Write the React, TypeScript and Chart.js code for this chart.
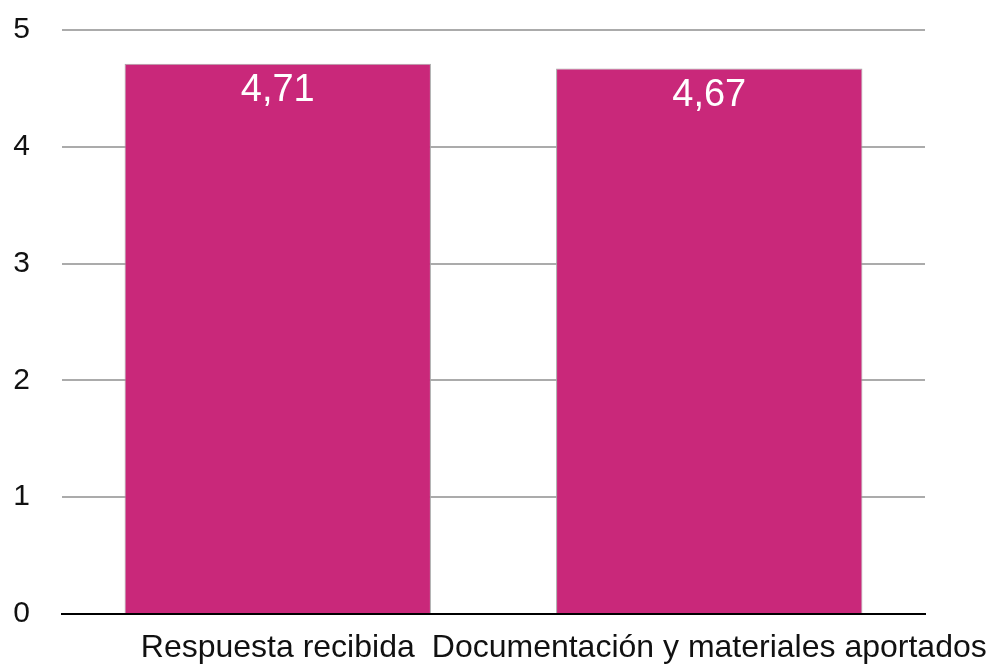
import React, { useEffect, useRef } from "react";
import { Chart, registerables } from "chart.js";

Chart.register(...registerables);

const categories = ["Respuesta recibida", "Documentación y materiales aportados"];
const values = [4.71, 4.67];
const valueLabels = ["4,71", "4,67"];
const yTicks = [0, 1, 2, 3, 4, 5];

const FONT = "'Liberation Sans', Arial, Helvetica, sans-serif";

const valueLabelPlugin = {
  id: "valueLabels",
  afterDatasetsDraw(chart: any) {
    const ctx = chart.ctx;
    const meta = chart.getDatasetMeta(0);
    ctx.save();
    ctx.fillStyle = "#ffffff";
    ctx.font = `38px ${FONT}`;
    ctx.textAlign = "center";
    ctx.textBaseline = "middle";
    meta.data.forEach((bar: any, i: number) => {
      ctx.fillText(valueLabels[i], bar.x, bar.y + 27);
    });
    ctx.restore();
  },
};

export default function App() {
  const ref = useRef<HTMLCanvasElement>(null);
  useEffect(() => {
    if (!ref.current) return;
    const chart = new Chart(ref.current, {
      type: "bar",
      data: {
        labels: categories,
        datasets: [
          {
            data: values,
            backgroundColor: "#C9287A",
            borderColor: "#a8a8a8",
            borderWidth: 1,
            categoryPercentage: 1,
            barPercentage: 0.71,
          },
        ],
      },
      options: {
        responsive: false,
        animation: false,
        layout: { padding: { left: 0, right: 72, top: 30, bottom: 0 } },
        plugins: { legend: { display: false }, tooltip: { enabled: false } },
        scales: {
          x: {
            grid: { display: false, drawTicks: false },
            border: { display: true, color: "#000000", width: 2 },
            ticks: {
              autoSkip: false,
              maxRotation: 0,
              minRotation: 0,
              padding: 15,
              color: "#111111",
              font: { family: FONT, size: 32 },
            },
            afterFit(scale: any) {
              scale.height = 52;
              scale.paddingLeft = 0;
              scale.paddingRight = 0;
            },
          },
          y: {
            min: 0,
            max: 5,
            afterBuildTicks(scale: any) {
              scale.ticks = yTicks.map((v) => ({ value: v }));
            },
            grid: {
              drawTicks: false,
              color: "#ababab",
              lineWidth: 2,
            },
            border: { display: false },
            ticks: {
              padding: 32,
              color: "#111111",
              font: { family: FONT, size: 30 },
            },
            afterFit(scale: any) {
              scale.width = 62;
              scale.paddingTop = 0;
              scale.paddingBottom = 0;
            },
          },
        },
      },
      plugins: [valueLabelPlugin],
    });
    return () => chart.destroy();
  }, []);
  return (
    <div style={{ position: "fixed", left: 0, top: 0, width: 997, height: 666, background: "#fff" }}>
      <canvas ref={ref} width={997} height={666} style={{ width: 997, height: 666, display: "block" }} />
    </div>
  );
}
